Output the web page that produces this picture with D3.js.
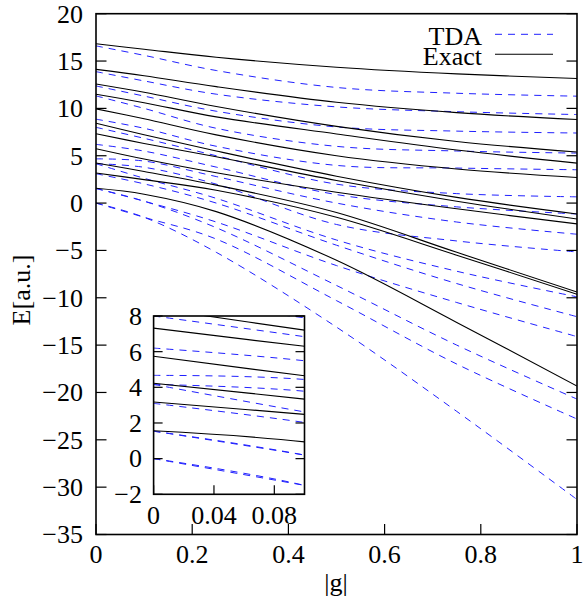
<!DOCTYPE html>
<html>
<head>
<meta charset="utf-8">
<script src="https://cdn.jsdelivr.net/npm/d3@7"></script>
<style>
  html, body { margin: 0; padding: 0; background: #fff; }
  svg { display: block; }
  text { font-family: 'Liberation Serif', 'Times New Roman', serif; fill: #000; }
</style>
</head>
<body>
<svg id="chart" width="584" height="601"></svg>
<script>
// coupling values where each curve was sampled
const G = [0, 0.1, 0.25, 0.5, 0.75, 1]

// exact energies (solid black)
const exact1 = [16.82, 16.25, 15.4, 14.35, 13.65, 13.16]
const exact2 = [14.12, 13.45, 12.3, 10.65, 9.55, 8.82]
const exact3 = [12.58, 11.7, 10.2, 8.1, 6.5, 5.39]
const exact4 = [11.49, 10.6, 9.1, 7.3, 5.6, 4.22]
const exact5 = [9.95, 8.9, 7.2, 5.0, 3.6, 2.7]
const exact6 = [8.44, 7.21, 5.5, 2.84, 0.6, -1.15]
const exact7 = [7.32, 6.3, 4.9, 2.39, 0.2, -1.68]
const exact8 = [5.74, 4.65, 3.2, 1.15, -0.6, -2.2]
const exact9 = [4.23, 3.34, 1.9, -1.0, -5.2, -9.4]
const exact10 = [3.18, 2.48, 1.35, -1.5, -5.5, -9.63]
const exact11 = [1.56, 0.94, -0.9, -6.04, -12.6, -19.32]

// TDA energies (dashed blue)
const tda1 = [16.6, 15.6, 14.0, 12.21, 11.6, 11.29]
const tda2 = [13.88, 12.9, 11.5, 10.16, 9.65, 9.35]
const tda3 = [12.37, 11.3, 9.7, 8.04, 7.6, 7.4]
const tda4 = [11.32, 10.0, 7.9, 5.99, 5.5, 5.28]
const tda5 = [8.86, 7.9, 6.0, 3.98, 3.7, 3.52]
const tda6 = [8.0, 6.84, 5.0, 2.0, 1.0, 0.66]
const tda7 = [6.2, 5.49, 3.8, 0.9, -0.4, -1.15]
const tda8 = [4.67, 4.44, 2.8, 0.0, -2.0, -3.29]
const tda9 = [4.16, 3.78, 2.0, -2.26, -4.0, -5.16]
const tda10 = [4.16, 2.62, 0.5, -3.9, -7.2, -9.9]
const tda11 = [3.1, 2.03, 0.0, -4.45, -8.5, -12.0]
const tda12 = [1.54, 0.2, -2.0, -6.6, -10.5, -14.1]
const tda13 = [1.54, 0.2, -2.6, -8.7, -15.0, -20.7]
const tda14 = [0, -1.5, -3.8, -10.3, -17.0, -22.8]
const tda15 = [0, -1.5, -5.2, -13.1, -22.0, -31.3]

const EXACT = [exact1, exact2, exact3, exact4, exact5, exact6, exact7, exact8, exact9, exact10, exact11]
const TDA = [tda1, tda2, tda3, tda4, tda5, tda6, tda7, tda8, tda9, tda10, tda11, tda12, tda13, tda14, tda15]

const yTicks = [20, 15, 10, 5, 0, -5, -10, -15, -20, -25, -30, -35]
const xTicks = [0, 0.2, 0.4, 0.6, 0.8, 1]
const insetYTicks = [8, 6, 4, 2, 0, -2]
const insetXTicks = [0, 0.04, 0.08]

const BLUE = '#2020ff'
const DASH = '7,6'
const FONT = 26

const svg = d3.select('#chart')
const fmt = (d) => String(d).replace('-', '\u2212')

function drawPanel({left, right, top, bottom, xDomain, yDomain, xt, yt, tickLen, yLabelX, xLabelY, clipId}) {
  const x = d3.scaleLinear().domain(xDomain).range([left, right])
  const y = d3.scaleLinear().domain(yDomain).range([bottom, top])
  const g = svg.append('g')

  g.append('rect')
    .attr('x', left).attr('y', top)
    .attr('width', right - left).attr('height', bottom - top)
    .attr('fill', '#fff')

  g.append('clipPath').attr('id', clipId)
    .append('rect')
    .attr('x', left).attr('y', top)
    .attr('width', right - left).attr('height', bottom - top)

  const line = d3.line()
    .x((d, i) => x(G[i]))
    .y((d) => y(d))
    .curve(d3.curveCatmullRom.alpha(0.5))

  const curves = g.append('g').attr('clip-path', `url(#${clipId})`)
  curves.selectAll('.tda')
    .data(TDA)
    .enter()
    .append('path')
    .attr('class', 'tda')
    .attr('d', line)
    .attr('fill', 'none')
    .attr('stroke', BLUE)
    .attr('stroke-width', 1)
    .attr('stroke-dasharray', DASH)
  curves.selectAll('.exact')
    .data(EXACT)
    .enter()
    .append('path')
    .attr('class', 'exact')
    .attr('d', line)
    .attr('fill', 'none')
    .attr('stroke', '#000')
    .attr('stroke-width', 1.1)

  // inward ticks on left/right and bottom
  const ticks = g.append('g').attr('stroke', '#000').attr('stroke-width', 1.2)
  yt.forEach((t) => {
    ticks.append('line').attr('x1', left).attr('x2', left + tickLen).attr('y1', y(t)).attr('y2', y(t))
    ticks.append('line').attr('x1', right).attr('x2', right - tickLen).attr('y1', y(t)).attr('y2', y(t))
  })
  xt.forEach((t) => {
    ticks.append('line').attr('x1', x(t)).attr('x2', x(t)).attr('y1', bottom).attr('y2', bottom - tickLen)
  })

  g.append('rect')
    .attr('x', left).attr('y', top)
    .attr('width', right - left).attr('height', bottom - top)
    .attr('fill', 'none')
    .attr('stroke', '#000')
    .attr('stroke-width', 1.6)

  g.selectAll('.ylab')
    .data(yt)
    .enter()
    .append('text')
    .attr('x', yLabelX)
    .attr('y', (d) => y(d))
    .attr('dy', '0.34em')
    .attr('text-anchor', 'end')
    .attr('font-size', FONT)
    .text(fmt)

  g.selectAll('.xlab')
    .data(xt)
    .enter()
    .append('text')
    .attr('x', (d) => x(d))
    .attr('y', xLabelY)
    .attr('text-anchor', 'middle')
    .attr('font-size', FONT)
    .text(fmt)

  return {x, y}
}

// main panel
drawPanel({
  left: 96, right: 577, top: 13.7, bottom: 534.5,
  xDomain: [0, 1], yDomain: [-35, 20],
  xt: xTicks, yt: yTicks, tickLen: 10.5,
  yLabelX: 83, xLabelY: 563, clipId: 'clipMain',
})

svg.append('text')
  .attr('transform', 'translate(30, 290) rotate(-90)')
  .attr('text-anchor', 'middle')
  .attr('font-size', FONT)
  .text('E[a.u.]')

svg.append('text')
  .attr('x', 336).attr('y', 591)
  .attr('text-anchor', 'middle')
  .attr('font-size', FONT)
  .text('|g|')

// legend
const legend = svg.append('g')
legend.append('text').attr('x', 482).attr('y', 45).attr('text-anchor', 'end').attr('font-size', FONT).text('TDA')
legend.append('line').attr('x1', 495).attr('x2', 553).attr('y1', 34.3).attr('y2', 34.3)
  .attr('stroke', BLUE).attr('stroke-width', 1).attr('stroke-dasharray', DASH)
legend.append('text').attr('x', 482).attr('y', 65).attr('text-anchor', 'end').attr('font-size', FONT).text('Exact')
legend.append('line').attr('x1', 495).attr('x2', 553).attr('y1', 54.3).attr('y2', 54.3)
  .attr('stroke', '#000').attr('stroke-width', 1.1)

// inset zoom on small |g|
drawPanel({
  left: 153.6, right: 304.5, top: 316, bottom: 494.3,
  xDomain: [0, 0.1], yDomain: [-2, 8],
  xt: insetXTicks, yt: insetYTicks, tickLen: 9,
  yLabelX: 142, xLabelY: 524, clipId: 'clipInset',
})
</script>
</body>
</html>
